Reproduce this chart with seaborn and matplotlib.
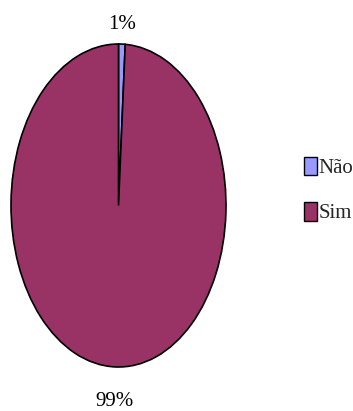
import seaborn as sns
import matplotlib
matplotlib.use('Agg')
import matplotlib.pyplot as plt

labels = ['Não', 'Sim']
values = [1, 99]
colors = ['#9999FF', '#993366']

sns.set_theme(style='white')
plt.rcParams['font.family'] = ['Liberation Serif', 'DejaVu Serif']

W, H = 353, 411
fig = plt.figure(figsize=(W / 100, H / 100), dpi=100)
# stretched (elliptical) pie, like the original chart
ax = fig.add_axes([11 / W, 44 / H, 215 / W, 323 / H])

wedges, texts, autotexts = ax.pie(
    values, colors=colors, startangle=90, counterclock=False,
    autopct='%1.0f%%', pctdistance=1.12,
    wedgeprops={'edgecolor': 'black', 'linewidth': 1.2},
    textprops={'fontsize': 15, 'color': 'black'})
ax.set_aspect('auto')
ax.set_xlim(-1, 1)
ax.set_ylim(-1, 1)
for w in wedges:
    w.set_clip_on(False)
for t in autotexts:
    t.set_clip_on(False)
# bottom label sits a bit further out
x, y = autotexts[1].get_position()
autotexts[1].set_position((x, y * 1.085))

leg = fig.legend(wedges, labels, loc='center left',
                 bbox_to_anchor=(304 / W, 1 - 190 / H),
                 frameon=False, fontsize=15, borderpad=0, borderaxespad=0,
                 handlelength=0.63, handleheight=1.0, handletextpad=0.08,
                 labelspacing=1.15)
for p in leg.get_patches():
    p.set_edgecolor('black')
    p.set_linewidth(1.0)

fig.savefig('out.png', dpi=100)
